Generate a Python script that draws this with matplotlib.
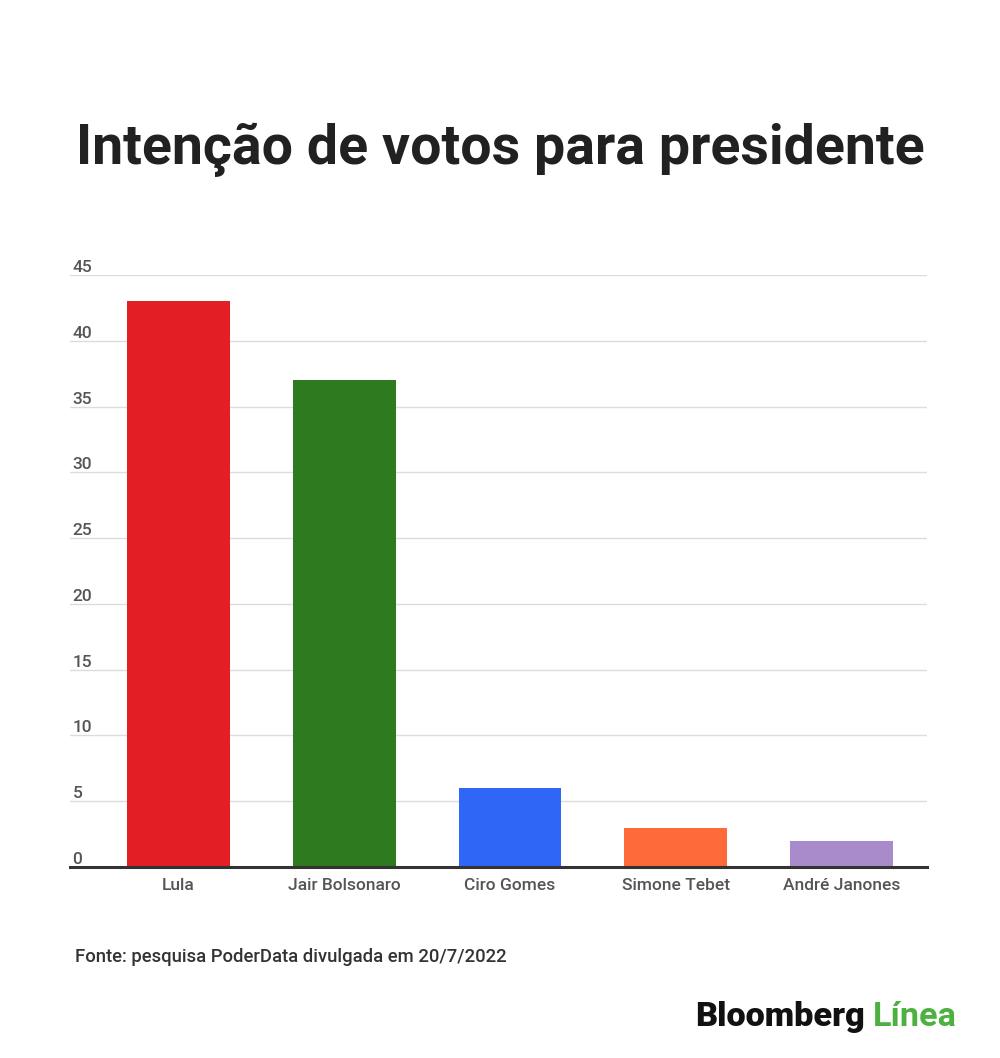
import matplotlib
matplotlib.use("Agg")
import matplotlib.pyplot as plt

categories = ["Lula", "Jair Bolsonaro", "Ciro Gomes", "Simone Tebet", "André Janones"]
values = [43, 37, 6, 3, 2]
colors = ["#e31e24", "#2e7a1e", "#2f66f6", "#ff6b38", "#a98bcb"]
yticks = [0, 5, 10, 15, 20, 25, 30, 35, 40, 45]

plt.rcParams['font.family'] = ['Roboto', 'DejaVu Sans']

fig = plt.figure(figsize=(10, 10.58), dpi=100)
fig.patch.set_facecolor("white")
ax = fig.add_axes([0.07, 0.1805, 0.857, 0.5595])

x = list(range(len(categories)))
ax.bar(x, values, width=0.62, color=colors, zorder=3)
ax.set_xlim(-0.655, 4.517)
ax.set_ylim(0, 45)

for t in yticks:
    if t > 0:
        ax.axhline(t, color="#dcdcdc", linewidth=1, zorder=1)
    ax.text(0.003, t, str(t), transform=ax.get_yaxis_transform(),
            ha="left", va="bottom", fontsize=12.5, color="#555555", fontweight="medium")

ax.axhline(0, color="#333333", linewidth=2.2, zorder=4, clip_on=False)

ax.set_yticks([])
ax.set_xticks(x)
ax.set_xticklabels(categories, fontsize=12.5, color="#555555", fontweight="medium")
ax.tick_params(axis="x", length=0, pad=8)
for s in ax.spines.values():
    s.set_visible(False)

fig.text(0.5, 1 - 150/1058, "Intenção de votos para presidente", ha="center", va="center",
         fontsize=40, fontweight="bold", color="#212121")
fig.text(0.075, 1 - 957/1058, "Fonte: pesquisa PoderData divulgada em 20/7/2022",
         ha="left", va="center", fontsize=13.3, color="#333333", fontweight="medium")

t1 = fig.text(0.695, 1 - 1017/1058, "Bloomberg", ha="left", va="center",
              fontsize=24.7, fontweight="black", color="#111111")
fig.canvas.draw()
bb = t1.get_window_extent()
fig.text(bb.x1 / fig.bbox.width + 0.008, 1 - 1017/1058, "Línea", ha="left", va="center",
         fontsize=24.7, fontweight="bold", color="#4cb141")

fig.savefig("out.png", dpi=100, facecolor="white")
